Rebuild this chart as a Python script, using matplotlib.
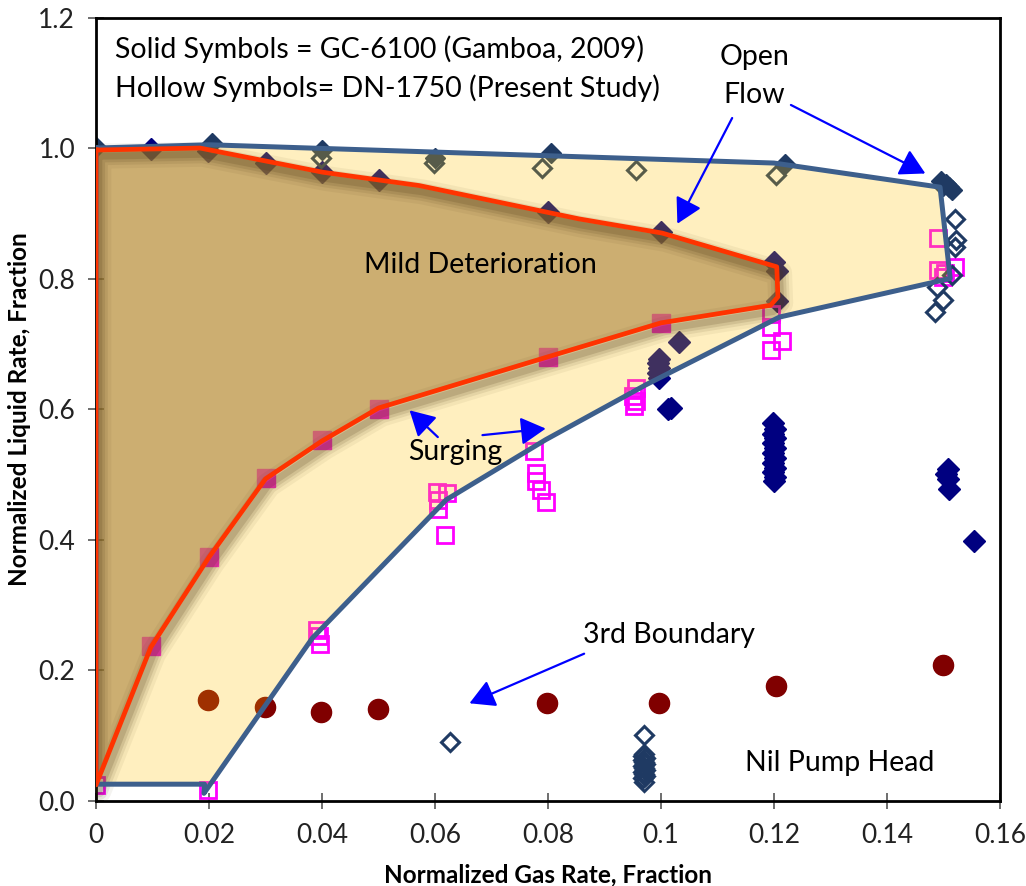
import matplotlib
matplotlib.use("Agg")
import matplotlib.pyplot as plt
import matplotlib.patheffects as pe
from matplotlib.patches import Polygon, FancyArrowPatch

plt.rcParams['font.family'] = ['Lato', 'DejaVu Sans']

# Operating envelope (outer boundary, blue)
outer_x = [0.0, 0.020, 0.120, 0.1494, 0.1512, 0.121, 0.0973, 0.0796, 0.062, 0.0383, 0.0191, 0.0192, 0.0]
outer_y = [1.000, 1.005, 0.977, 0.940, 0.800, 0.741, 0.637, 0.553, 0.461, 0.249, 0.011, 0.025, 0.025]

# Mild deterioration region (inner boundary, red)
inner_x = [0.0, 0.0184, 0.0219, 0.0401, 0.0572, 0.0855, 0.1002, 0.1205, 0.1207, 0.1194,
           0.100, 0.080, 0.050, 0.040, 0.030, 0.020, 0.0097, 0.0]
inner_y = [0.997, 1.000, 0.994, 0.963, 0.9425, 0.8914, 0.8697, 0.818, 0.772, 0.759,
           0.732, 0.680, 0.6015, 0.551, 0.493, 0.373, 0.235, 0.024]

# GC-6100 (Gamboa, 2009) - solid symbols
gc_dia_x = [0.0098, 0.0198, 0.030, 0.040, 0.050, 0.080, 0.100, 0.120, 0.1205, 0.1205,
            0.1032, 0.0997, 0.0995, 0.0997, 0.0995, 0.0997, 0.1017, 0.1012,
            0.1198, 0.1202, 0.1198, 0.1202, 0.1198, 0.1202, 0.1198, 0.1202, 0.1198,
            0.1202, 0.1198, 0.1202, 0.1200,
            0.1508, 0.1505, 0.1508, 0.1510, 0.1554]
gc_dia_y = [0.998, 0.995, 0.977, 0.963, 0.951, 0.902, 0.872, 0.825, 0.812, 0.765,
            0.703, 0.677, 0.670, 0.663, 0.655, 0.648, 0.601, 0.600,
            0.578, 0.570, 0.562, 0.555, 0.548, 0.540, 0.532, 0.525, 0.518,
            0.510, 0.503, 0.496, 0.490,
            0.508, 0.500, 0.492, 0.478, 0.398]

gc_top_x = [0.0, 0.0205, 0.040, 0.060, 0.0805, 0.122, 0.1495, 0.1505, 0.1510, 0.1515, 0.1500]
gc_top_y = [1.002, 1.008, 0.997, 0.985, 0.993, 0.976, 0.950, 0.945, 0.940, 0.935, 0.942]

gc_sq_x = [0.0097, 0.020, 0.030, 0.040, 0.050, 0.080, 0.100]
gc_sq_y = [0.237, 0.373, 0.494, 0.553, 0.600, 0.680, 0.732]

gc_circ_x = [0.0198, 0.0299, 0.0399, 0.0499, 0.0799, 0.0996, 0.1203, 0.1500]
gc_circ_y = [0.154, 0.144, 0.135, 0.140, 0.149, 0.149, 0.176, 0.207]

# DN-1750 (present study) - hollow symbols
dn_sq_x = [0.0, 0.0198, 0.0392, 0.0395, 0.0396,
           0.0603, 0.0622, 0.0605, 0.0605, 0.0617,
           0.0776, 0.0779, 0.0779, 0.0787, 0.0796,
           0.0955, 0.0950, 0.0955, 0.0952,
           0.1195, 0.1195, 0.1215, 0.1195,
           0.1491, 0.1491, 0.1503, 0.1521, 0.1500]
dn_sq_y = [0.024, 0.016, 0.262, 0.252, 0.240,
           0.473, 0.472, 0.460, 0.447, 0.407,
           0.535, 0.502, 0.489, 0.476, 0.458,
           0.632, 0.620, 0.612, 0.605,
           0.745, 0.725, 0.705, 0.690,
           0.862, 0.813, 0.808, 0.818, 0.803]

dn_dia_x = [0.0398, 0.0598, 0.0790, 0.0955, 0.1203,
            0.1520, 0.1523, 0.1520, 0.1515, 0.1488, 0.1500, 0.1485,
            0.0627, 0.0970,
            0.0970, 0.0968, 0.0972, 0.0968, 0.0970, 0.0972, 0.0968, 0.0970, 0.0972, 0.0968,
            0.0970, 0.0972, 0.0968, 0.0970]
dn_dia_y = [0.985, 0.977, 0.970, 0.966, 0.959,
            0.892, 0.859, 0.849, 0.805, 0.787, 0.767, 0.749,
            0.090, 0.100,
            0.071, 0.068, 0.065, 0.062, 0.059, 0.056, 0.053, 0.050, 0.047, 0.044,
            0.041, 0.038, 0.035, 0.028]

x_ticks = [0, 0.02, 0.04, 0.06, 0.08, 0.10, 0.12, 0.14, 0.16]
x_tick_labels = ['0', '0.02', '0.04', '0.06', '0.08', '0.1', '0.12', '0.14', '0.16']
y_ticks = [0.0, 0.2, 0.4, 0.6, 0.8, 1.0, 1.2]
y_tick_labels = ['0.0', '0.2', '0.4', '0.6', '0.8', '1.0', '1.2']

fig = plt.figure(figsize=(10.26, 8.86), dpi=100)
ax = fig.add_axes([0.0936, 0.0965, 0.881, 0.8837])
ax.set_xlim(0, 0.16)
ax.set_ylim(0, 1.2)

# data markers (drawn beneath the translucent regions)
navy = '#000080'
steel = '#1F3A63'
ax.plot(gc_dia_x, gc_dia_y, 'D', color=navy, ms=11, mec=navy, mew=1, zorder=2, ls='none')
ax.plot(gc_top_x, gc_top_y, 'D', color=steel, ms=10, mec=steel, mew=1, zorder=2, ls='none')
ax.plot(gc_sq_x, gc_sq_y, 's', color='#FF00FF', ms=12.5, mec='#FF00FF', mew=1, zorder=2, ls='none')
ax.plot(gc_circ_x, gc_circ_y, 'o', color='#800000', ms=14.5, mec='#800000', mew=1, zorder=2, ls='none')
ax.plot(dn_sq_x, dn_sq_y, 's', mfc='none', mec='#FF00FF', ms=12, mew=2, zorder=2, ls='none')
ax.plot(dn_dia_x, dn_dia_y, 'D', mfc='none', mec=steel, ms=9.5, mew=2.2, zorder=2, ls='none')

# regions
ax.add_patch(Polygon(list(zip(outer_x, outer_y)), closed=True, facecolor='#FFC000',
                     alpha=0.25, edgecolor='none', zorder=3))
ax.add_patch(Polygon(list(zip(inner_x, inner_y)), closed=True, facecolor='#AB843E',
                     alpha=0.6, edgecolor='none', zorder=4))

# soft shadow under the inner boundary
inner_cx = inner_x + [inner_x[0]]
inner_cy = inner_y + [inner_y[0]]
for lw, a in [(18, 0.06), (13, 0.09), (9, 0.12), (5, 0.16)]:
    ax.plot(inner_cx, inner_cy, color='#4A3510', lw=0, zorder=5,
            path_effects=[pe.SimpleLineShadow(offset=(2, -4.5), shadow_color='#4A3510',
                                              alpha=a, linewidth=lw)])

ax.plot(outer_x + [outer_x[0]], outer_y + [outer_y[0]], color='#3D5F8C', lw=3.6,
        solid_joinstyle='round', zorder=6)
ax.plot(inner_cx, inner_cy, color='#FF3300', lw=3.4, solid_joinstyle='round', zorder=7)

# axes styling
for s in ax.spines.values():
    s.set_color('black')
    s.set_linewidth(2)
ax.set_xticks(x_ticks)
ax.set_xticklabels(x_tick_labels)
ax.set_yticks(y_ticks)
ax.set_yticklabels(y_tick_labels)
ax.tick_params(axis='both', direction='inout', length=12, width=1.2, color='#555555',
               labelsize=19, labelcolor='#222222')
ax.tick_params(axis='x', pad=10)
ax.tick_params(axis='y', pad=9)
ax.set_xlabel('Normalized Gas Rate, Fraction', fontsize=17.5, fontweight='bold', labelpad=11)
ax.set_ylabel('Normalized Liquid Rate, Fraction', fontsize=17.5, fontweight='bold', labelpad=5)

# annotations
txt = dict(fontsize=20.5, color='black', zorder=10)
ax.text(0.0034, 1.152, 'Solid Symbols = GC-6100 (Gamboa, 2009)', va='center', ha='left', **txt)
ax.text(0.0034, 1.092, 'Hollow Symbols= DN-1750 (Present Study)', va='center', ha='left', **txt)
ax.text(0.1165, 1.110, 'Open\nFlow', ha='center', va='center', linespacing=1.55, **txt)
ax.text(0.0681, 0.821, 'Mild Deterioration', ha='center', va='center', **txt)
ax.text(0.0635, 0.534, 'Surging', ha='center', va='center', **txt)
ax.text(0.1015, 0.2535, '3rd Boundary', ha='center', va='center', **txt)
ax.text(0.1316, 0.0575, 'Nil Pump Head', ha='center', va='center', **txt)

def arrow(x0, y0, x1, y1):
    ax.add_patch(FancyArrowPatch((x0, y0), (x1, y1), arrowstyle='-|>,head_length=9,head_width=5',
                                 color='#0000FF', lw=1.6, mutation_scale=1.7, zorder=9,
                                 shrinkA=0, shrinkB=0))

arrow(0.1126, 1.046, 0.1029, 0.884)   # Open flow -> inner boundary
arrow(0.1230, 1.066, 0.1468, 0.961)   # Open flow -> outer boundary
arrow(0.0605, 0.557, 0.0555, 0.598)   # Surging -> red
arrow(0.0684, 0.560, 0.0796, 0.570)   # Surging -> blue
arrow(0.0864, 0.225, 0.0661, 0.149)   # 3rd boundary

fig.savefig('out.png', dpi=100)
